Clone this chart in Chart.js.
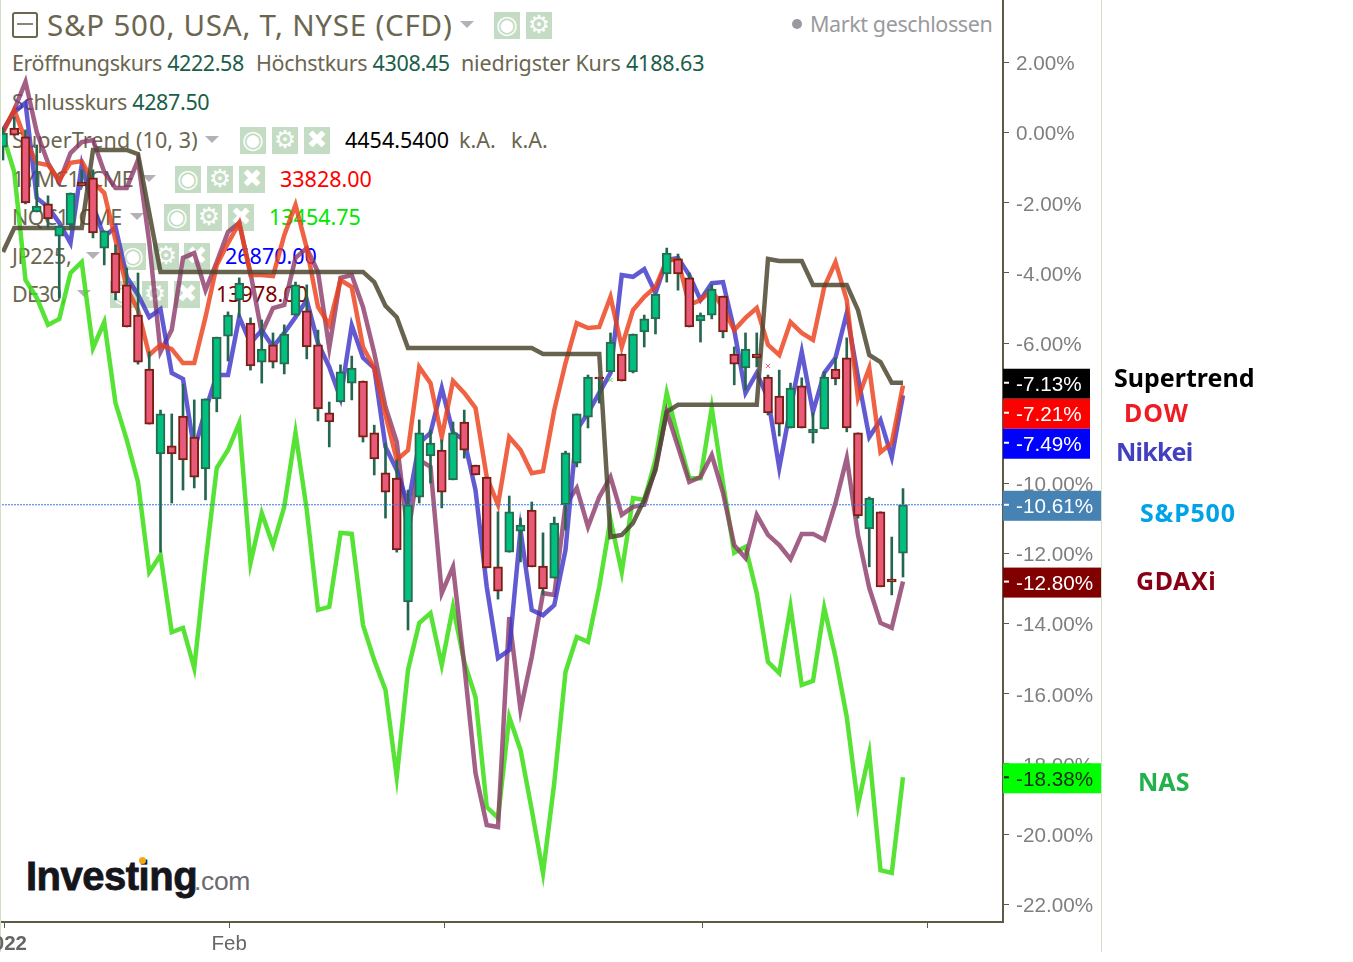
<!DOCTYPE html>
<html>
<head>
<meta charset="utf-8">
<title>S&amp;P 500 Vergleich</title>
<script src="https://cdn.jsdelivr.net/npm/chart.js@4"></script>
<style>
html, body { margin: 0; padding: 0; background: #fff; width: 1353px; height: 962px; overflow: hidden; }
#page { position: relative; width: 1353px; height: 962px; overflow: hidden; }
#chart { position: absolute; left: -3px; top: -25px; z-index: 2; }
.edge { position: absolute; top: 0; width: 1px; height: 952px; background: #cfe0c4; }
.t { position: absolute; white-space: nowrap; font-family: "Noto Sans", sans-serif; font-size: 21.5px; line-height: 30px; color: #6b6650; z-index: 1; }
.v { color: #1b5e48; }
.title { font-size: 29.5px; line-height: 36px; letter-spacing: .78px; }
.caret { position: absolute; width: 0; height: 0; border-left: 7px solid transparent; border-right: 7px solid transparent; border-top: 7px solid #b4b0b8; z-index: 1; }
.ic { position: absolute; width: 26px; height: 27px; background: #c3dcc3; color: #fff; font: bold 25px/26px "DejaVu Sans", sans-serif; text-align: center; z-index: 1; overflow: hidden; }
.mn { position: absolute; left: 12px; top: 12px; width: 22px; height: 22px; border: 2px solid #6b6650; border-radius: 3px; z-index: 1; }
.mn:after { content: ""; position: absolute; left: 3px; right: 3px; top: 9px; height: 2px; background: #8b8676; }
.dot { position: absolute; left: 792px; top: 19px; width: 10px; height: 10px; border-radius: 50%; background: #9a9a9e; z-index: 1; }
.note { position: absolute; white-space: nowrap; font: bold 25px/30px "Noto Sans", sans-serif; z-index: 3; }
.logo { position: absolute; left: 26px; top: 852px; white-space: nowrap; font: bold 40px/48px "Liberation Sans", sans-serif; letter-spacing: -.5px; color: #15151c; -webkit-text-stroke: .8px #15151c; z-index: 1; }
.logo span { font-weight: normal; font-size: 26.5px; letter-spacing: -.4px; margin-left: -3px; color: #6a6a72; -webkit-text-stroke: 0; }
.spark { position: absolute; left: 139px; top: 857px; width: 7px; height: 7px; border-radius: 50%; background: #f0a818; z-index: 1; }
</style>
</head>
<body>
<div id="page">
  <div class="edge" style="left:0"></div>
  <div class="edge" style="left:1101px"></div>

  <div class="mn"></div>
  <div class="t title" style="left:47px;top:7px">S&amp;P 500, USA, T, NYSE (CFD)</div>
  <div class="caret" style="left:460px;top:21px"></div>
  <div class="ic" style="left:494px;top:12px">◉</div>
  <div class="ic" style="left:526px;top:12px">⚙</div>
  <div class="dot"></div>
  <div class="t" style="left:810px;top:9px;color:#9a9a9e;letter-spacing:-.4px">Markt geschlossen</div>

  <div class="t" style="left:12px;top:48px;letter-spacing:-.4px">Eröffnungskurs <span class="v">4222.58</span></div>
  <div class="t" style="left:256px;top:48px;letter-spacing:-.33px">Höchstkurs <span class="v">4308.45</span></div>
  <div class="t" style="left:461px;top:48px;letter-spacing:-.17px">niedrigster Kurs <span class="v">4188.63</span></div>
  <div class="t" style="left:12px;top:87px;letter-spacing:-.35px">Schlusskurs <span class="v">4287.50</span></div>

  <div class="t" style="left:12px;top:125px;letter-spacing:.1px">SuperTrend (10, 3)</div>
  <div class="caret" style="left:205px;top:136px"></div>
  <div class="ic" style="left:240px;top:127px">◉</div>
  <div class="ic" style="left:272px;top:127px">⚙</div>
  <div class="ic" style="left:304px;top:127px">✖</div>
  <div class="t" style="left:345px;top:125px;color:#000">4454.5400</div>
  <div class="t" style="left:459px;top:125px">k.A.</div>
  <div class="t" style="left:511px;top:125px">k.A.</div>

  <div class="t" style="left:12px;top:164px;letter-spacing:-.5px">1YMC1, CME</div>
  <div class="caret" style="left:142px;top:175px"></div>
  <div class="ic" style="left:175px;top:166px">◉</div>
  <div class="ic" style="left:207px;top:166px">⚙</div>
  <div class="ic" style="left:239px;top:166px">✖</div>
  <div class="t" style="left:280px;top:164px;color:#ff0000">33828.00</div>

  <div class="t" style="left:12px;top:202px;letter-spacing:-.65px">NQC1, CME</div>
  <div class="caret" style="left:130px;top:213px"></div>
  <div class="ic" style="left:164px;top:204px">◉</div>
  <div class="ic" style="left:196px;top:204px">⚙</div>
  <div class="ic" style="left:228px;top:204px">✖</div>
  <div class="t" style="left:269px;top:202px;color:#00e800">13454.75</div>

  <div class="t" style="left:12px;top:241px;letter-spacing:-.35px">JP225,</div>
  <div class="caret" style="left:86px;top:252px"></div>
  <div class="ic" style="left:120px;top:243px">◉</div>
  <div class="ic" style="left:153px;top:243px">⚙</div>
  <div class="ic" style="left:184px;top:243px">✖</div>
  <div class="t" style="left:225px;top:241px;color:#0000ff">26870.00</div>

  <div class="t" style="left:12px;top:279px;letter-spacing:-.8px">DE30,</div>
  <div class="caret" style="left:77px;top:290px"></div>
  <div class="ic" style="left:110px;top:281px">◉</div>
  <div class="ic" style="left:142px;top:281px">⚙</div>
  <div class="ic" style="left:174px;top:281px">✖</div>
  <div class="t" style="left:216px;top:279px;color:#800000">13978.00</div>

  <div class="logo">Investing<span>.com</span></div>
  <div class="spark"></div>

  <div class="note" style="left:1114px;top:362px;color:#000">Supertrend</div>
  <div class="note" style="left:1124px;top:397px;color:#ee1c25;letter-spacing:1px">DOW</div>
  <div class="note" style="left:1116px;top:436px;color:#4340c0;letter-spacing:-.8px">Nikkei</div>
  <div class="note" style="left:1140px;top:497px;color:#00a2e8;letter-spacing:.8px">S&amp;P500</div>
  <div class="note" style="left:1136px;top:565px;color:#880015;letter-spacing:.6px">GDAXi</div>
  <div class="note" style="left:1138px;top:766px;color:#22b14c">NAS</div>

  <canvas id="chart" width="1356" height="987"></canvas>
</div>

<script>
// values in percent, one entry per trading day
const yTicks = [4, 2, 0, -2, -4, -6, -8, -10, -12, -14, -16, -18, -20, -22];
const xTickDays = [0.1, 20.1, 39.2, 62.2, 82.2];
const xTickLabels = ['2022', 'Feb', '', '', ''];

const nas = [-0.07,-1.12,-4.20,-4.71,-5.48,-5.31,-4.00,-3.69,-6.14,-5.40,-7.71,-8.76,-9.96,-12.53,-12.04,-14.24,-14.12,-15.27,-12.27,-9.56,-9.05,-8.28,-12.27,-10.85,-11.76,-10.67,-8.56,-10.76,-13.61,-13.52,-11.41,-11.44,-14.04,-15.04,-15.89,-18.37,-15.32,-13.98,-13.70,-15.18,-13.52,-15.09,-16.09,-19.23,-19.54,-16.66,-17.60,-19.31,-21.11,-18.54,-15.38,-14.38,-14.52,-12.95,-11.04,-12.53,-10.42,-10.47,-9.33,-7.42,-8.68,-9.85,-9.85,-7.85,-9.99,-11.98,-11.81,-13.13,-15.09,-15.41,-13.52,-15.75,-15.63,-13.55,-14.95,-16.66,-19.17,-17.69,-21.03,-21.11,-18.38];
const gdaxi = [0.02,0.65,1.45,0.02,-0.86,-1.41,-0.58,-0.27,-0.21,-1.12,-1.58,-1.58,-0.78,-3.12,-6.25,-5.62,-3.57,-3.43,-4.49,-3.69,-2.83,-2.57,-4.00,-5.71,-5.00,-4.91,-3.57,-3.29,-3.97,-6.14,-4.14,-4.06,-4.97,-6.28,-7.82,-8.82,-11.47,-9.33,-9.53,-13.13,-12.38,-15.18,-18.26,-19.74,-19.80,-13.81,-16.46,-14.95,-13.13,-13.18,-10.61,-10.13,-11.24,-10.39,-9.82,-10.90,-10.67,-10.61,-9.56,-7.96,-8.96,-9.96,-9.82,-9.19,-10.27,-11.76,-12.13,-10.90,-11.47,-11.76,-12.16,-11.44,-11.44,-11.61,-10.56,-9.28,-11.47,-12.98,-13.98,-14.12,-12.80];
const nikkei = [0.08,0.59,0.85,-1.86,-2.12,-2.57,-3.15,-0.92,-2.12,-2.97,-2.69,-4.11,-4.62,-5.26,-5.03,-6.85,-7.02,-9.05,-7.91,-6.91,-6.91,-5.26,-6.00,-5.63,-6.11,-5.71,-5.26,-4.77,-6.00,-6.68,-7.57,-5.49,-6.42,-6.71,-8.96,-9.62,-10.61,-8.85,-8.56,-7.28,-8.56,-8.76,-10.19,-12.95,-14.98,-14.75,-11.33,-13.61,-13.76,-13.47,-11.90,-8.48,-7.99,-7.42,-6.85,-4.06,-4.11,-3.89,-4.57,-3.63,-3.57,-4.06,-4.77,-4.29,-4.26,-5.63,-7.42,-6.85,-7.57,-9.56,-7.85,-6.25,-7.96,-6.85,-6.42,-5.14,-6.97,-8.68,-8.19,-9.25,-7.49];
const dow = [0.02,0.65,-0.21,-0.86,-0.92,-1.35,-0.86,-0.81,-1.41,-1.72,-3.06,-4.43,-5.06,-6.34,-6.05,-6.17,-6.57,-6.57,-5.26,-3.77,-3.15,-2.57,-4.06,-4.06,-4.09,-2.92,-2.06,-3.29,-4.97,-5.48,-4.20,-4.40,-6.11,-6.71,-8.05,-9.33,-9.05,-6.68,-7.14,-8.68,-7.08,-7.42,-7.85,-9.82,-10.61,-8.68,-9.05,-9.71,-9.65,-7.91,-6.57,-5.43,-5.57,-5.54,-4.68,-6.11,-5.06,-4.68,-4.40,-3.63,-3.63,-4.91,-4.77,-4.49,-5.00,-5.63,-5.28,-5.00,-6.05,-6.34,-5.40,-5.71,-5.91,-4.40,-3.69,-4.77,-7.57,-6.71,-9.11,-8.85,-7.21];
const supertrend = [-3.40,-2.72,-2.72,-2.72,-2.72,-2.72,-2.72,-2.72,-0.49,-0.49,-0.49,-0.49,-0.61,-2.29,-3.97,-3.97,-3.97,-3.97,-3.97,-3.97,-3.97,-3.97,-3.97,-3.97,-3.97,-3.97,-3.97,-3.97,-3.97,-3.97,-3.97,-3.97,-3.97,-4.26,-4.94,-5.26,-6.14,-6.14,-6.14,-6.14,-6.14,-6.14,-6.14,-6.14,-6.14,-6.14,-6.14,-6.14,-6.31,-6.31,-6.31,-6.31,-6.31,-6.31,-11.53,-11.47,-11.13,-10.47,-9.62,-7.96,-7.76,-7.76,-7.76,-7.76,-7.76,-7.76,-7.76,-7.76,-3.60,-3.66,-3.66,-3.66,-4.34,-4.34,-4.34,-4.34,-5.06,-6.34,-6.54,-7.13,-7.13];

const candleOpen = [-0.41,0.13,-0.12,-2.26,-2.03,-2.95,-2.63,-1.41,-1.29,-3.29,-3.43,-4.34,-5.20,-6.74,-9.16,-8.93,-8.08,-8.68,-9.59,-7.59,-5.80,-4.77,-5.43,-6.54,-6.05,-6.60,-5.20,-5.08,-6.05,-7.99,-7.68,-7.14,-7.08,-8.56,-9.70,-9.85,-13.38,-10.39,-9.22,-9.05,-9.90,-8.25,-9.48,-9.82,-12.38,-11.96,-11.36,-10.76,-12.36,-12.70,-10.61,-9.42,-8.11,-6.97,-6.82,-6.31,-6.82,-5.68,-5.31,-4.03,-3.60,-4.14,-5.37,-5.20,-4.66,-6.31,-6.71,-6.31,-6.97,-7.51,-8.42,-7.22,-8.56,-8.45,-6.74,-6.42,-8.56,-11.30,-10.81,-12.73,-11.99];
const candleHigh = [0.13,0.45,0.08,-0.35,-1.80,-2.66,-1.72,-1.06,-1.06,-2.80,-3.20,-3.86,-4.00,-6.25,-7.91,-8.02,-7.17,-7.62,-7.59,-5.83,-5.11,-4.14,-5.28,-5.34,-5.71,-5.48,-4.26,-4.34,-5.63,-7.68,-6.62,-6.37,-7.08,-8.34,-8.85,-9.33,-10.19,-8.19,-8.48,-8.76,-8.25,-7.91,-9.48,-9.82,-10.81,-10.36,-10.99,-10.53,-11.41,-10.96,-9.08,-8.02,-6.91,-6.97,-5.71,-6.31,-5.74,-5.20,-4.60,-3.29,-3.46,-4.00,-5.14,-4.34,-4.66,-6.11,-5.71,-5.71,-6.91,-6.77,-7.14,-6.99,-7.99,-6.82,-6.42,-5.85,-8.56,-10.39,-10.81,-11.53,-10.15];
const candleLow = [-0.78,-0.07,-2.03,-2.26,-2.72,-4.71,-2.77,-1.52,-3.00,-3.77,-4.77,-5.54,-6.60,-8.31,-11.96,-10.56,-10.19,-10.13,-10.47,-7.96,-6.51,-5.26,-6.77,-7.14,-6.71,-6.88,-5.20,-6.45,-8.22,-8.96,-7.68,-7.62,-8.82,-9.76,-10.99,-11.96,-14.18,-10.56,-9.99,-10.70,-9.90,-9.28,-9.76,-12.41,-13.30,-11.96,-12.24,-12.38,-13.18,-12.70,-11.33,-9.53,-8.42,-7.71,-6.82,-7.08,-6.85,-6.11,-5.74,-4.26,-4.49,-5.54,-5.97,-5.31,-5.85,-7.19,-7.34,-6.68,-8.05,-8.65,-8.42,-8.42,-8.85,-8.45,-7.19,-8.53,-10.99,-12.38,-12.95,-13.18,-12.67];
const candleClose = [-0.01,-0.07,-2.00,-2.09,-2.46,-2.66,-1.72,-1.52,-2.86,-2.80,-4.57,-5.54,-6.54,-8.31,-8.02,-9.16,-9.33,-9.82,-7.59,-5.83,-5.20,-4.29,-6.65,-6.17,-6.54,-5.74,-4.34,-6.11,-7.88,-8.25,-6.82,-6.71,-8.68,-9.30,-10.25,-11.90,-10.61,-8.56,-8.85,-10.25,-8.56,-9.05,-9.76,-12.41,-13.07,-10.81,-11.19,-12.38,-13.01,-11.13,-9.13,-8.02,-6.97,-7.02,-5.97,-7.08,-5.74,-5.31,-4.60,-3.43,-4.03,-5.54,-5.20,-4.46,-5.68,-6.60,-6.17,-6.42,-7.99,-8.31,-7.28,-8.42,-8.45,-6.97,-7.02,-8.42,-10.93,-10.42,-12.95,-12.81,-10.61];

const lastPrice = -10.61;
const tagLabels = ['-7.13%', '-7.21%', '-7.49%', '-10.61%', '-12.80%', '-18.38%'];
const tagValues = [-7.13, -7.21, -7.49, -10.61, -12.80, -18.38];
const signalDays = [54, 68];
const signalValues = [-7.05, -6.65];

const dayPoints = values => values.map((y, i) => ({ x: i, y }));
const lineSet = (label, values, color, order) => ({
    type: 'line', label, data: dayPoints(values), borderColor: color, borderWidth: 4.5,
    pointRadius: 0, tension: 0, borderJoinStyle: 'miter', borderCapStyle: 'butt', order
});

const X_MIN = -0.089, X_MAX = 88.889, Y_MIN = -22.507, Y_MAX = 4.354;

// value tags on the right axis, pushed down when they would overlap
const tagsPlugin = {
    id: 'tags',
    afterDraw(chart) {
        const { ctx, chartArea, scales } = chart;
        const fills = ['#000000', '#ff0000', '#0000ff', '#4682b4', '#800000', '#00ff00'];
        const widths = [87, 87, 87, 98, 98, 98];
        let prev = -100;
        ctx.save();
        ctx.font = '20.7px "Liberation Sans", sans-serif';
        ctx.textBaseline = 'middle';
        tagValues.forEach((v, i) => {
            const y = Math.max(scales.y.getPixelForValue(v) + 1, prev + 30);
            prev = y;
            ctx.fillStyle = fills[i];
            ctx.fillRect(chartArea.right, y - 15, widths[i], 30);
            ctx.fillStyle = i === 5 ? '#1c2a1c' : '#ffffff';
            ctx.fillRect(chartArea.right + 1, y - 2, 5, 2);
            ctx.fillText(tagLabels[i], chartArea.right + 13, y + 2);
        });
        ctx.restore();
    }
};

new Chart(document.getElementById('chart'), {
    type: 'line',
    data: {
        datasets: [
            { type: 'line', label: 'Letzter Kurs', data: [{ x: X_MIN, y: lastPrice }, { x: X_MAX, y: lastPrice }],
              borderColor: '#3a78d8', borderWidth: 1, borderDash: [2, 1], pointRadius: 0, order: 0 },
            { type: 'line', label: 'Signale', showLine: false, order: 0, pointStyle: 'crossRot', pointRadius: 3, pointBorderWidth: 1,
              pointBorderColor: ['#55dd44', '#e85a78'],
              data: signalDays.map((x, i) => ({ x, y: signalValues[i] })) },
            { type: 'bar', label: 'S&P 500', order: 1, grouped: false, barThickness: 9, borderWidth: 2, borderSkipped: false,
              data: candleOpen.map((o, i) => ({ x: i, y: [o, candleClose[i]] })),
              backgroundColor: candleOpen.map((o, i) => candleClose[i] >= o ? '#00c080' : '#e85a78'),
              borderColor: candleOpen.map((o, i) => candleClose[i] >= o ? '#2a6a50' : '#7a1f14') },
            { type: 'bar', label: 'Docht', order: 2, grouped: false, barThickness: 2,
              data: candleLow.map((l, i) => ({ x: i, y: [l, candleHigh[i]] })),
              backgroundColor: '#256650' },
            lineSet('Supertrend', supertrend, 'rgba(78,72,48,0.85)', 3),
            lineSet('DOW', dow, 'rgba(236,64,26,0.82)', 4),
            lineSet('Nikkei', nikkei, 'rgba(64,54,200,0.82)', 5),
            lineSet('GDAXi', gdaxi, 'rgba(140,56,104,0.8)', 6),
            lineSet('NAS', nas, 'rgba(64,222,26,0.88)', 7)
        ]
    },
    options: {
        responsive: false,
        animation: false,
        plugins: { legend: { display: false }, tooltip: { enabled: false } },
        // 5 is what the signal points ask for anyway, the canvas is moved by the same amount
        layout: { padding: { left: 5, right: 252, top: 5, bottom: 0 } },
        scales: {
            x: {
                type: 'linear', min: X_MIN, max: X_MAX, offset: false,
                afterBuildTicks(scale) { scale.ticks = xTickDays.map(value => ({ value })); },
                afterFit(scale) { scale.height = 40; scale.paddingLeft = 0; scale.paddingRight = 0; },
                grid: { offset: false, drawOnChartArea: false, drawTicks: true, tickLength: 6, color: '#5f5a48' },
                border: { color: '#5f5a48', width: 2 },
                ticks: {
                    autoSkip: false, maxRotation: 0, padding: 4, color: '#666666',
                    font: c => ({ family: '"Liberation Sans", sans-serif', size: 20.5, weight: c.index === 0 ? 'bold' : 'normal' }),
                    callback: (v, i) => xTickLabels[i]
                }
            },
            y: {
                type: 'linear', position: 'right', min: Y_MIN, max: Y_MAX,
                afterBuildTicks(scale) { scale.ticks = yTicks.map(value => ({ value })); },
                afterFit(scale) { scale.width = 98; scale.paddingTop = 0; scale.paddingBottom = 0; },
                grid: { drawOnChartArea: false, drawTicks: true, tickLength: 6, color: '#5f5a48' },
                border: { color: '#5f5a48', width: 2 },
                ticks: {
                    autoSkip: false, padding: 7, labelOffset: 2, color: '#7f7f7f', align: 'center', crossAlign: 'near',
                    font: { family: '"Liberation Sans", sans-serif', size: 20.7 },
                    callback: v => v.toFixed(2) + '%'
                }
            }
        }
    },
    plugins: [tagsPlugin]
});
</script>
</body>
</html>
